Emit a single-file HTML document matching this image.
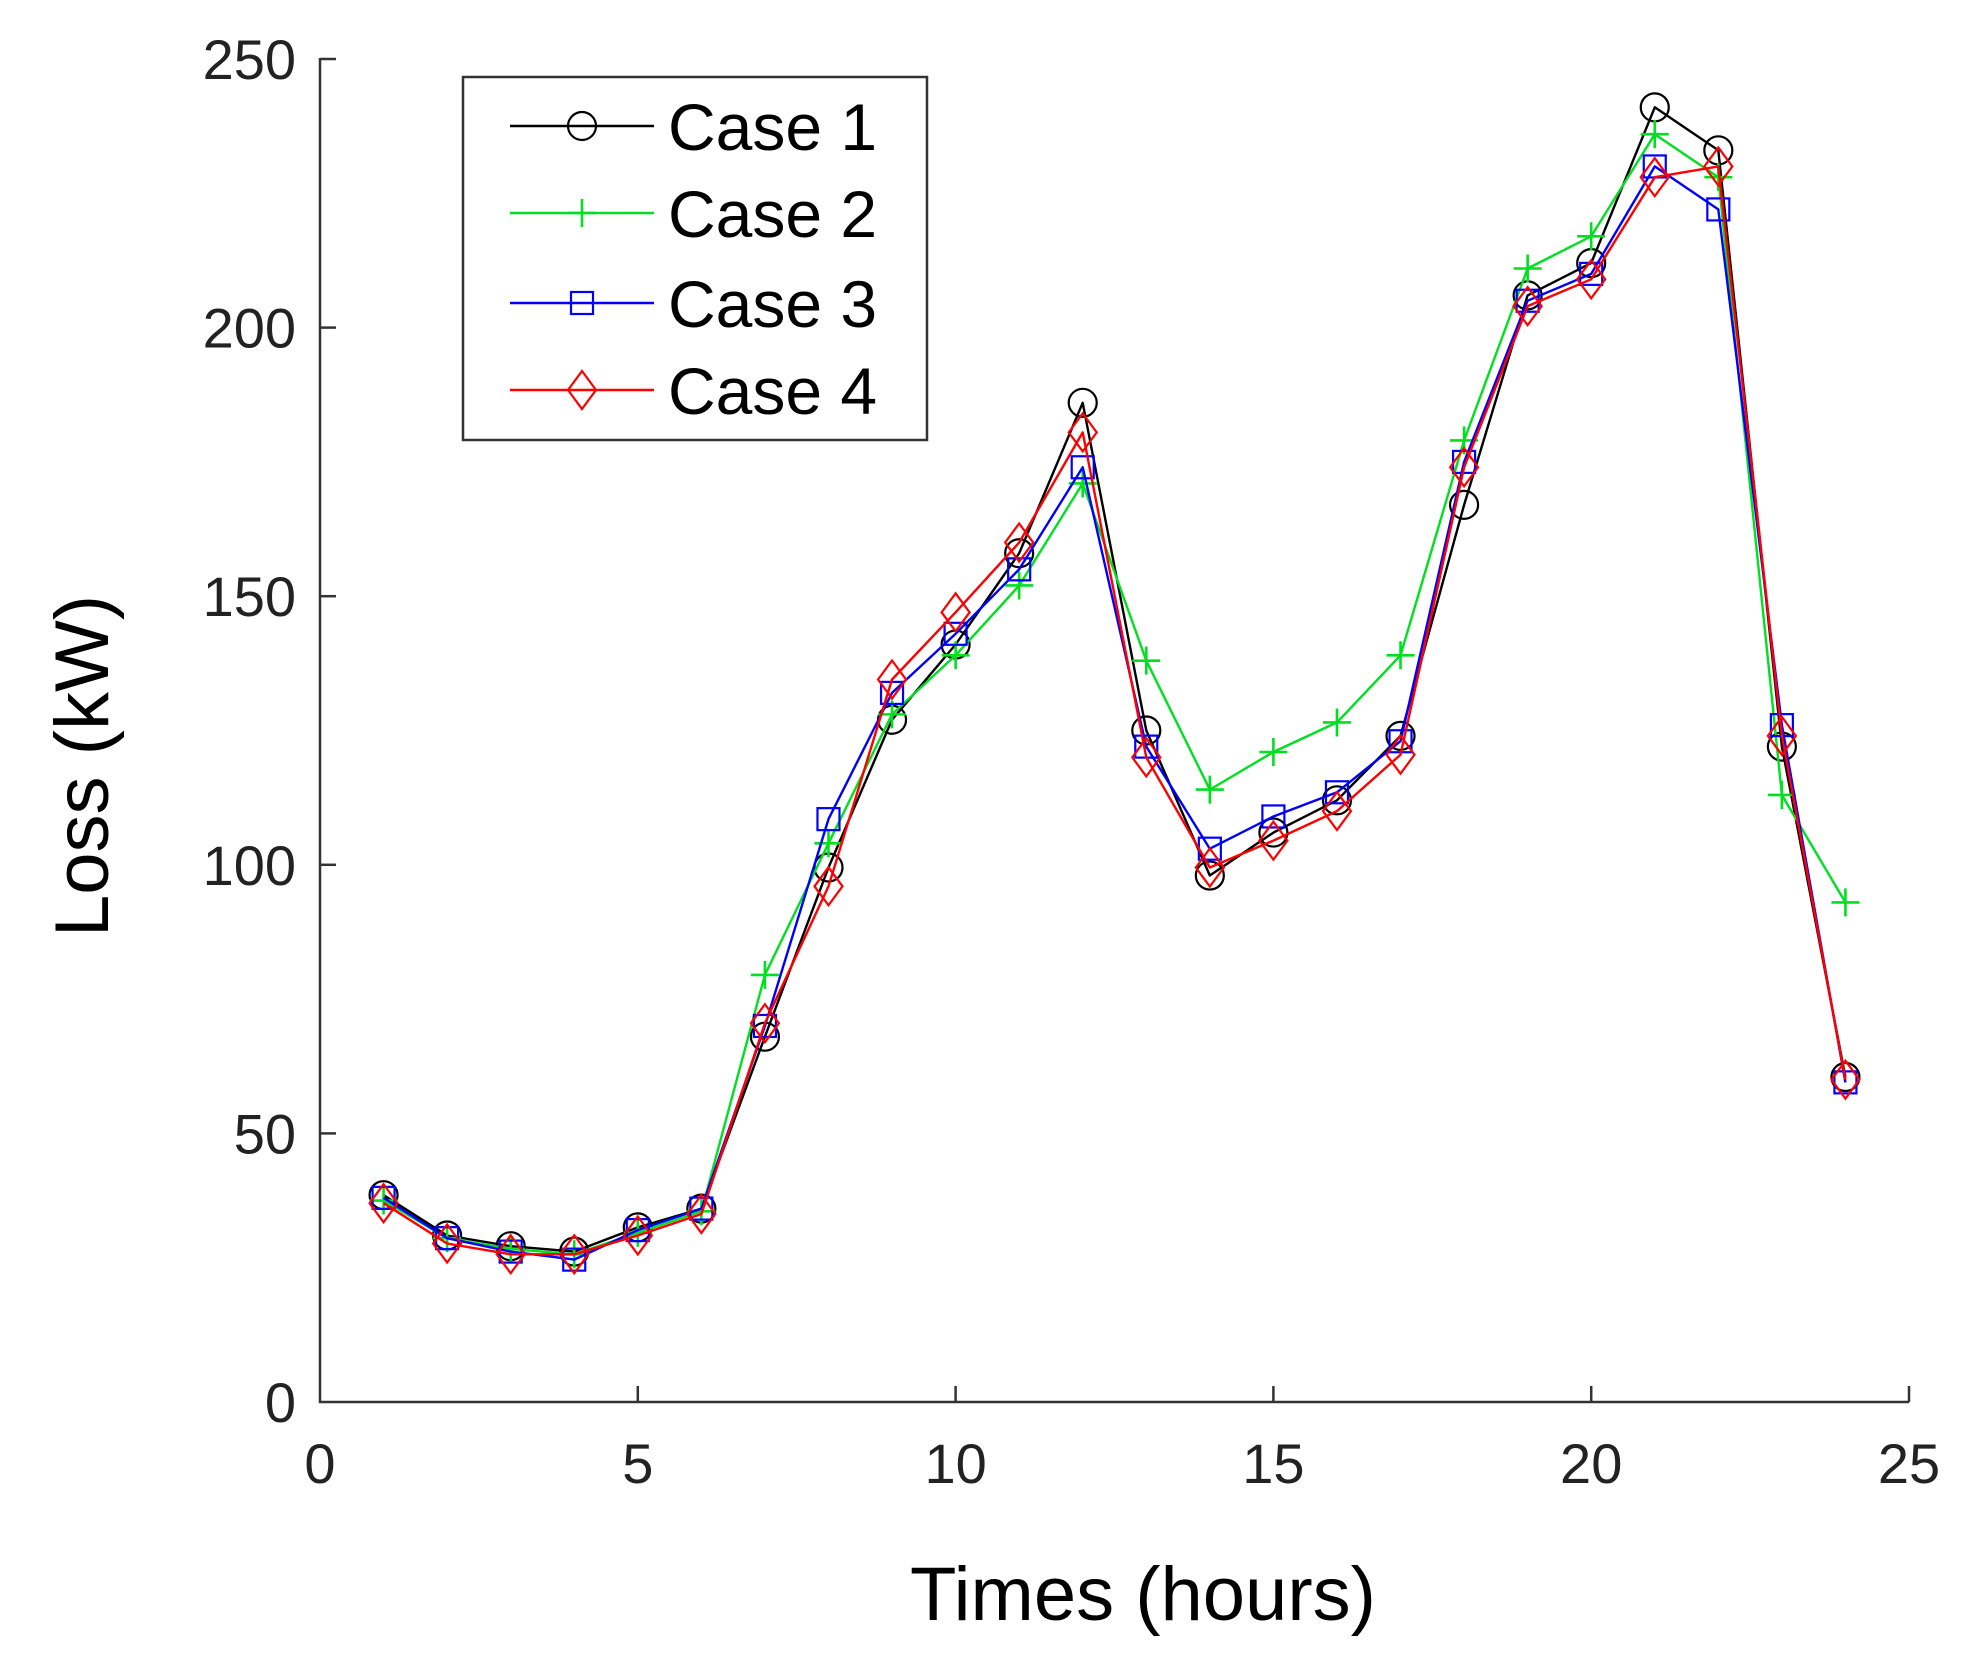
<!DOCTYPE html>
<html><head><meta charset="utf-8"><style>
html,body{margin:0;padding:0;background:#fff;}
svg{display:block;font-family:"Liberation Sans",sans-serif;}
</style></head><body>
<svg id="s" width="1969" height="1666" viewBox="0 0 1969 1666" xmlns="http://www.w3.org/2000/svg">
<rect width="1969" height="1666" fill="#fff"/>
<g id="axes" stroke="#333" stroke-width="2.5" fill="none">
<path d="M320,58 L320,1402 L1909,1402"/>
</g>
<g id="ticks"></g>
<g id="data"></g>
<text x="1143" y="1620" font-size="76" text-anchor="middle" fill="#000">Times (hours)</text>
<text transform="translate(108,766) rotate(-90)" font-size="76" text-anchor="middle" fill="#000">Loss (kW)</text>
<g id="legend">
<rect x="463" y="77" width="464" height="363" fill="#fff" stroke="#333" stroke-width="2.5"/>
</g>
</svg>
<script>
var NS="http://www.w3.org/2000/svg";
function el(p,t,a,txt){var e=document.createElementNS(NS,t);for(var k in a)e.setAttribute(k,a[k]);if(txt)e.textContent=txt;p.appendChild(e);return e;}
function X(t){return 320+63.56*t;}
function Y(v){return 1402-5.372*v;}
var tk=document.getElementById('ticks');
for(var i=0;i<=25;i+=5){var x=X(i);if(i>0)el(tk,'line',{x1:x,y1:1402,x2:x,y2:1386,stroke:'#333','stroke-width':2.5});
el(tk,'text',{x:x,y:1483,'font-size':56,'text-anchor':'middle',fill:'#222'},String(i));}
for(var v=0;v<=250;v+=50){var y=Y(v);if(v>0)el(tk,'line',{x1:320,y1:y,x2:336,y2:y,stroke:'#333','stroke-width':2.5});
el(tk,'text',{x:296,y:y+20,'font-size':56,'text-anchor':'end',fill:'#222'},String(v));}
var D=[
{c:'#000',m:'o',v:[38.5,31,29,28,32.5,36,68,99.5,127,141,158,186,125,98,106,112,124,167,206,212,241,233,122,60.5]},
{c:'#00e020',m:'+',v:[37.5,30.5,28.5,27.5,31.5,35.5,79.5,104,128,139,152,171,138,114,121,126.5,139,179,211,217,236,228,113,93]},
{c:'#0000ff',m:'s',v:[38,30.5,28,26.5,32,36,70,108.5,132,143,155,174,122,103,109,113.5,123,175,205,210,230,222,126,59.5]},
{c:'#ff0000',m:'d',v:[37,29.5,27.5,27.5,31,35,70.5,96,134.5,147,160,180.5,120,99.5,104.5,110,120.5,174,204,209,228,230,124,60]}];
function marker(g,m,x,y,c){
 if(m=='o')el(g,'circle',{cx:x,cy:y,r:14,fill:'none',stroke:c,'stroke-width':2.2});
 else if(m=='+')el(g,'path',{d:'M'+(x-14)+','+y+'H'+(x+14)+'M'+x+','+(y-14)+'V'+(y+14),stroke:c,'stroke-width':2.6,fill:'none'});
 else if(m=='s')el(g,'rect',{x:x-11,y:y-11,width:22,height:22,fill:'none',stroke:c,'stroke-width':2.2});
 else el(g,'path',{d:'M'+x+','+(y-19)+'L'+(x+14)+','+y+'L'+x+','+(y+19)+'L'+(x-14)+','+y+'Z',fill:'none',stroke:c,'stroke-width':2.2});
}
var dg=document.getElementById('data');
D.forEach(function(s){var p='';s.v.forEach(function(v,i){p+=(i?'L':'M')+X(i+1).toFixed(1)+','+Y(v).toFixed(1);});
el(dg,'path',{d:p,fill:'none',stroke:s.c,'stroke-width':2.4,'stroke-linejoin':'round'});
s.v.forEach(function(v,i){marker(dg,s.m,X(i+1),Y(v),s.c);});});
var lg=document.getElementById('legend');var ly=[126,213,303,390];
D.forEach(function(s,i){el(lg,'line',{x1:510,y1:ly[i],x2:654,y2:ly[i],stroke:s.c,'stroke-width':2.4});
marker(lg,s.m,582,ly[i],s.c);
el(lg,'text',{x:668,y:ly[i]+24,'font-size':66,fill:'#000'},'Case '+(i+1));});
</script>
</body></html>
